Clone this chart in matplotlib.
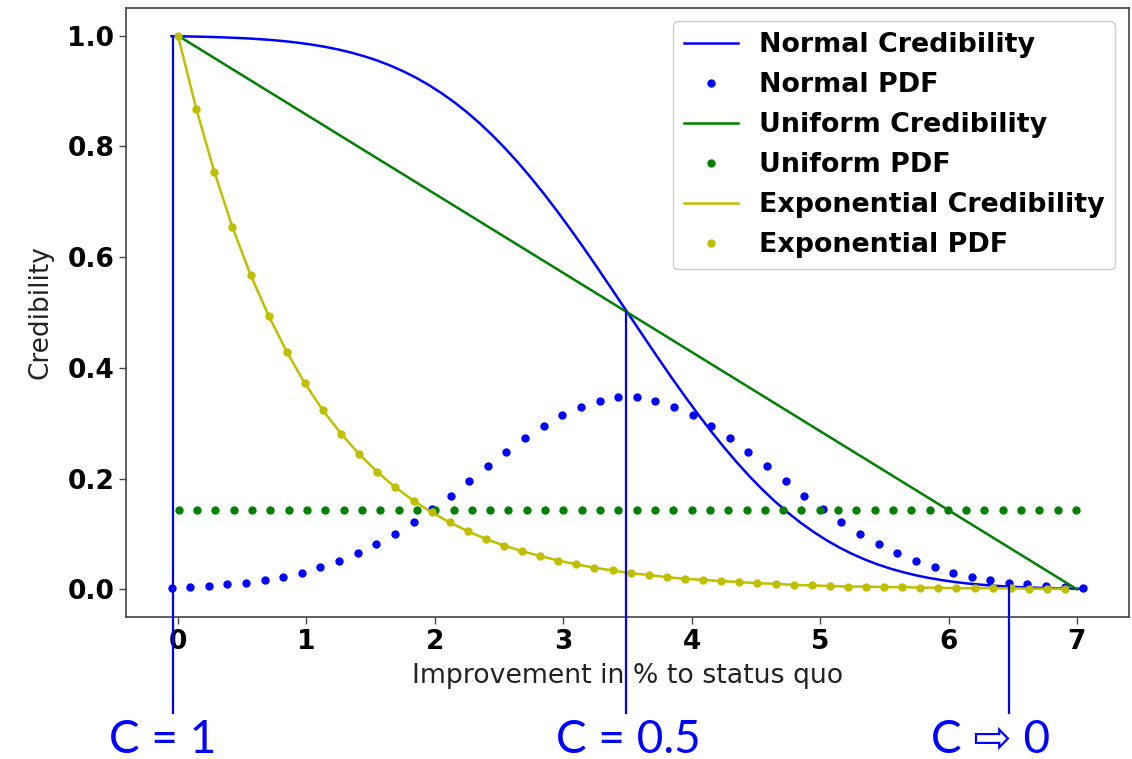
import matplotlib
matplotlib.use("Agg")
import matplotlib.pyplot as plt

# Normal distribution (mean 3.5): sample grid and density
normal_x = [-0.050, 0.095, 0.240, 0.385, 0.530, 0.674, 0.819, 0.964, 1.109, 1.254,
            1.399, 1.544, 1.689, 1.834, 1.979, 2.123, 2.268, 2.413, 2.558, 2.703,
            2.848, 2.993, 3.138, 3.283, 3.428, 3.572, 3.717, 3.862, 4.007, 4.152,
            4.297, 4.442, 4.587, 4.732, 4.877, 5.021, 5.166, 5.311, 5.456, 5.601,
            5.746, 5.891, 6.036, 6.181, 6.326, 6.470, 6.615, 6.760, 6.905, 7.050]
normal_pdf = [0.003, 0.004, 0.006, 0.009, 0.012, 0.017, 0.023, 0.030, 0.040, 0.051,
              0.065, 0.081, 0.100, 0.121, 0.145, 0.169, 0.195, 0.222, 0.248, 0.273,
              0.295, 0.315, 0.330, 0.341, 0.347, 0.347, 0.341, 0.330, 0.315, 0.295,
              0.273, 0.248, 0.222, 0.195, 0.169, 0.145, 0.121, 0.100, 0.081, 0.065,
              0.051, 0.040, 0.030, 0.023, 0.017, 0.012, 0.009, 0.006, 0.004, 0.003]

# Normal credibility (1 - CDF) on a finer grid for a smooth curve
normal_cred_x = [-0.05, 0.05, 0.15, 0.25, 0.35, 0.45, 0.55, 0.65, 0.75, 0.85,
                 0.95, 1.05, 1.15, 1.25, 1.35, 1.45, 1.55, 1.65, 1.75, 1.85,
                 1.95, 2.05, 2.15, 2.25, 2.35, 2.45, 2.55, 2.65, 2.75, 2.85,
                 2.95, 3.05, 3.15, 3.25, 3.35, 3.45, 3.55, 3.65, 3.75, 3.85,
                 3.95, 4.05, 4.15, 4.25, 4.35, 4.45, 4.55, 4.65, 4.75, 4.85,
                 4.95, 5.05, 5.15, 5.25, 5.35, 5.45, 5.55, 5.65, 5.75, 5.85,
                 5.95, 6.05, 6.15, 6.25, 6.35, 6.45, 6.55, 6.65, 6.75, 6.85,
                 6.95, 7.05]
normal_cred = [0.9990, 0.9987, 0.9982, 0.9977, 0.9969, 0.9960, 0.9949, 0.9934, 0.9917, 0.9895,
               0.9868, 0.9835, 0.9796, 0.9749, 0.9693, 0.9628, 0.9552, 0.9463, 0.9361, 0.9245,
               0.9113, 0.8965, 0.8800, 0.8617, 0.8416, 0.8196, 0.7958, 0.7703, 0.7430, 0.7142,
               0.6839, 0.6523, 0.6197, 0.5861, 0.5519, 0.5174, 0.4827, 0.4481, 0.4139, 0.3803,
               0.3477, 0.3161, 0.2858, 0.2570, 0.2297, 0.2042, 0.1804, 0.1584, 0.1383, 0.1200,
               0.1035, 0.0887, 0.0755, 0.0639, 0.0537, 0.0448, 0.0372, 0.0307, 0.0251, 0.0204,
               0.0165, 0.0132, 0.0105, 0.0084, 0.0066, 0.0051, 0.0040, 0.0031, 0.0023, 0.0018,
               0.0013, 0.0010]

# Uniform distribution on [0, 7]
uniform_x = [0.007, 0.150, 0.292, 0.435, 0.577, 0.720, 0.862, 1.005, 1.148, 1.290,
             1.433, 1.575, 1.718, 1.861, 2.003, 2.146, 2.288, 2.431, 2.573, 2.716,
             2.858, 3.001, 3.144, 3.286, 3.429, 3.571, 3.714, 3.856, 3.999, 4.142,
             4.284, 4.427, 4.569, 4.712, 4.854, 4.997, 5.140, 5.282, 5.425, 5.567,
             5.710, 5.852, 5.995, 6.138, 6.280, 6.423, 6.565, 6.708, 6.850, 6.993]
uniform_pdf = [0.143] * len(uniform_x)
uniform_line_x = [0.0, 7.0]
uniform_cred = [1.0, 0.0]

# Exponential distribution (rate 1): density and credibility coincide
expon_x = [0.001, 0.142, 0.283, 0.424, 0.565, 0.706, 0.847, 0.988, 1.129, 1.270,
           1.411, 1.552, 1.693, 1.834, 1.975, 2.115, 2.256, 2.397, 2.538, 2.679,
           2.820, 2.961, 3.102, 3.243, 3.384, 3.525, 3.666, 3.807, 3.948, 4.089,
           4.230, 4.371, 4.512, 4.653, 4.794, 4.935, 5.076, 5.217, 5.358, 5.499,
           5.639, 5.780, 5.921, 6.062, 6.203, 6.344, 6.485, 6.626, 6.767, 6.908]
expon_pdf = [0.999, 0.868, 0.754, 0.654, 0.568, 0.494, 0.429, 0.372, 0.323, 0.281,
             0.244, 0.212, 0.184, 0.160, 0.139, 0.121, 0.105, 0.091, 0.079, 0.069,
             0.060, 0.052, 0.045, 0.039, 0.034, 0.029, 0.026, 0.022, 0.019, 0.017,
             0.015, 0.013, 0.011, 0.010, 0.008, 0.007, 0.006, 0.005, 0.005, 0.004,
             0.004, 0.003, 0.003, 0.002, 0.002, 0.002, 0.002, 0.001, 0.001, 0.001]
expon_cred = list(expon_pdf)

xticks = [0, 1, 2, 3, 4, 5, 6, 7]
xtick_labels = ["0", "1", "2", "3", "4", "5", "6", "7"]
yticks = [0.0, 0.2, 0.4, 0.6, 0.8, 1.0]
ytick_labels = ["0.0", "0.2", "0.4", "0.6", "0.8", "1.0"]

# Reference markers for the credibility levels
guide_x = [-0.04, 3.49, 6.47]
guide_top = [1.0, 0.5, 0.007]
guide_bottom = -0.224
guide_texts = ["C = 1", "C = 0.5", "C \u21e8 0"]
guide_text_x = [0.144, 0.555, 0.875]

fig = plt.figure(figsize=(11.32, 7.59), dpi=100)
ax = fig.add_axes([0.1113, 0.1871, 0.8860, 0.8024])

lw = 1.8
ms = 10
ax.plot(normal_cred_x, normal_cred, color="b", lw=lw, label="Normal Credibility")
ax.plot(normal_x, normal_pdf, "b.", ms=ms, label="Normal PDF")
ax.plot(uniform_line_x, uniform_cred, color="g", lw=lw, label="Uniform Credibility")
ax.plot(uniform_x, uniform_pdf, "g.", ms=ms, label="Uniform PDF")
ax.plot(expon_x, expon_cred, color="y", lw=lw, label="Exponential Credibility")
ax.plot(expon_x, expon_pdf, "y.", ms=ms, label="Exponential PDF")

ax.set_xlim(-0.405, 7.405)
ax.set_ylim(-0.05, 1.05)
ax.set_xticks(xticks, xtick_labels, fontsize=19, fontweight="bold")
ax.set_yticks(yticks, ytick_labels, fontsize=19, fontweight="bold")
ax.tick_params(length=5, width=1.0, color="#444444")
for sp in ax.spines.values():
    sp.set_color("#444444")
    sp.set_linewidth(1.2)

ax.set_xlabel("Improvement in % to status quo", fontsize=19.3, color="#222222", labelpad=6)
ax.set_ylabel("Credibility", fontsize=19, color="#222222", labelpad=10)

ax.legend(loc="upper right", prop={"size": 19.4, "weight": "bold"}, framealpha=1.0,
          labelspacing=0.52)

for gx, gt in zip(guide_x, guide_top):
    ax.plot([gx, gx], [gt, guide_bottom], color="#0000ff", lw=1.6, clip_on=False, zorder=5)

for tx, txt in zip(guide_text_x, guide_texts):
    fig.text(tx, 0.008, txt, ha="center", va="baseline", fontsize=33, color="#0000ff",
             family=["Lato", "DejaVu Sans"])

fig.savefig("out.png", dpi=100)
